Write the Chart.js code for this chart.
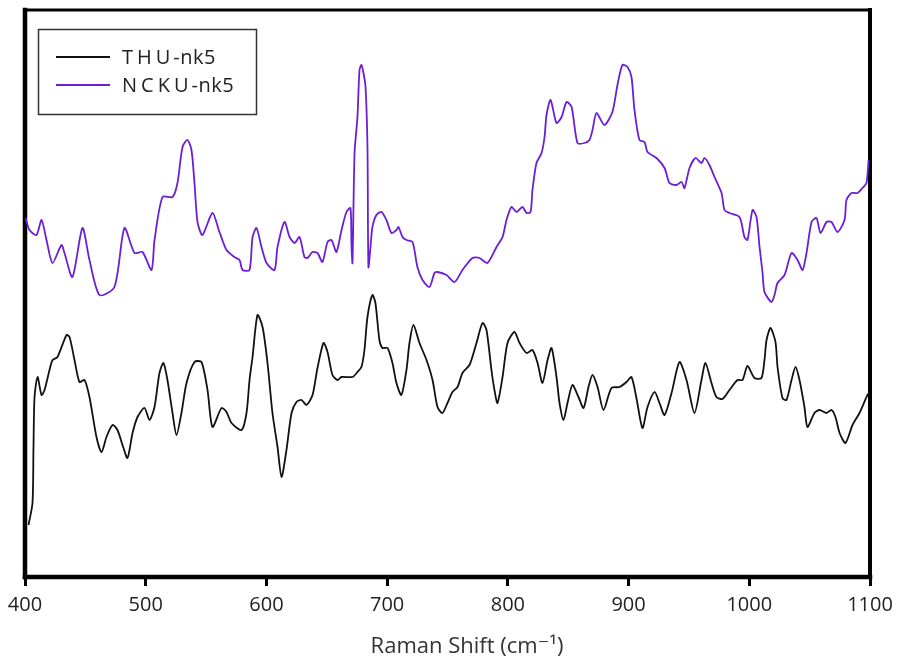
<!DOCTYPE html>
<html>
<head>
<meta charset="utf-8">
<title>Raman spectra</title>
<script src="https://cdn.jsdelivr.net/npm/chart.js@4.4.1/dist/chart.umd.min.js"></script>
<style>
  html, body { margin: 0; padding: 0; background: #ffffff; }
  #wrap { width: 908px; height: 664px; position: relative; }
</style>
</head>
<body>
<div id="wrap"><canvas id="spectra" width="908" height="664"></canvas></div>
<script>
// Raman shift axis ticks (cm-1)
const shiftTicks = [400, 500, 600, 700, 800, 900, 1000, 1100];

// Series names and axis title
const seriesNames = ['THU-nk5', 'NCKU-nk5'];
const xAxisTitle = 'Raman Shift (cm\u207B\u00B9)';

// THU-nk5 spectrum: Raman shift (cm-1) and intensity (a.u., offset trace)
const thuShift = [402.9, 406.2, 407.0, 407.9, 410.4, 413.7, 416.2, 420.3, 422.8, 426.9, 434.4, 436.9, 441.0, 445.1, 449.3, 453.4, 459.2, 463.4, 467.5, 472.5, 476.6, 480.8, 484.9, 489.1, 493.2, 499.0, 503.1, 507.3, 511.4, 514.7, 518.0, 522.2, 525.5, 529.6, 533.8, 540.4, 546.2, 551.2, 555.3, 562.8, 566.9, 571.1, 579.4, 583.5, 586.0, 588.5, 592.6, 596.8, 600.9, 605.0, 609.2, 612.5, 616.6, 620.8, 624.9, 629.1, 633.2, 638.2, 642.3, 647.3, 650.6, 654.7, 658.9, 662.2, 671.3, 675.4, 678.7, 681.2, 683.7, 687.8, 690.3, 693.6, 696.1, 700.3, 704.4, 707.7, 711.8, 716.0, 718.5, 721.8, 726.8, 732.6, 737.6, 741.7, 745.8, 750.0, 754.1, 758.3, 762.4, 768.2, 774.0, 779.0, 782.3, 786.4, 788.9, 791.4, 795.6, 799.7, 805.5, 809.7, 815.5, 820.4, 824.6, 828.7, 832.9, 836.2, 840.3, 842.8, 846.1, 849.4, 853.5, 858.5, 862.7, 866.8, 870.1, 874.3, 879.2, 885.8, 892.5, 898.3, 902.4, 906.5, 911.5, 915.7, 921.5, 925.6, 929.8, 935.6, 942.2, 948.0, 954.6, 960.4, 963.7, 968.7, 972.8, 977.8, 983.6, 990.2, 994.4, 998.5, 1004.3, 1010.1, 1012.6, 1014.3, 1017.6, 1021.7, 1023.4, 1027.5, 1030.8, 1035.0, 1038.3, 1041.6, 1045.7, 1048.2, 1054.0, 1058.2, 1064.0, 1068.1, 1071.4, 1074.8, 1079.7, 1085.5, 1091.3, 1097.9, 1099.6];
const thuIntensity = [52, 74, 127, 180, 200, 182, 187, 207, 217, 220, 242, 240, 217, 195, 197, 180, 140, 125, 140, 152, 147, 132, 119, 144, 160, 169, 157, 170, 204, 214, 197, 164, 142, 164, 194, 215, 215, 187, 150, 169, 165, 154, 147, 164, 197, 220, 262, 250, 214, 164, 130, 100, 127, 164, 175, 177, 172, 182, 209, 234, 225, 202, 197, 200, 200, 205, 210, 227, 260, 282, 274, 237, 229, 229, 214, 194, 182, 207, 234, 252, 234, 217, 197, 170, 164, 174, 185, 190, 204, 212, 234, 254, 247, 207, 187, 174, 200, 234, 245, 234, 224, 227, 214, 194, 217, 229, 200, 174, 157, 174, 192, 180, 169, 190, 202, 190, 167, 189, 190, 195, 200, 179, 149, 170, 185, 174, 162, 184, 215, 197, 164, 197, 214, 194, 180, 178, 187, 197, 197, 211, 199, 199, 217, 237, 249, 235, 210, 179, 177, 197, 210, 197, 170, 150, 164, 167, 164, 167, 160, 144, 134, 152, 164, 182, 184];

// NCKU-nk5 spectrum: Raman shift (cm-1) and intensity (a.u., offset trace)
const nckuShift = [400.4, 403.7, 409.5, 413.7, 417.8, 422.8, 430.2, 432.7, 439.3, 447.6, 453.4, 461.7, 474.1, 482.4, 490.7, 497.3, 504.8, 507.3, 513.9, 522.2, 526.3, 530.5, 534.6, 537.9, 540.4, 542.9, 547.0, 555.3, 561.1, 566.9, 573.5, 577.7, 580.2, 586.0, 588.5, 591.8, 595.9, 600.1, 606.7, 609.2, 615.0, 619.2, 623.3, 627.4, 631.5, 634.0, 638.2, 642.3, 646.4, 650.6, 653.9, 658.0, 662.2, 666.3, 669.6, 670.5, 671.3, 673.0, 675.4, 677.1, 678.7, 680.4, 682.1, 683.7, 684.5, 686.2, 687.8, 691.1, 695.3, 699.4, 703.6, 707.7, 709.4, 712.7, 716.0, 721.0, 725.1, 729.3, 735.1, 739.2, 741.7, 749.2, 755.8, 762.4, 770.7, 776.5, 783.1, 790.6, 795.6, 798.9, 803.0, 807.2, 812.1, 815.5, 818.8, 820.4, 823.7, 827.9, 830.4, 832.0, 835.4, 840.3, 844.5, 848.6, 852.8, 857.7, 863.5, 867.6, 870.1, 873.4, 880.0, 886.6, 890.8, 894.9, 899.1, 902.4, 904.9, 909.0, 913.2, 915.7, 923.1, 929.8, 933.9, 939.7, 943.9, 946.3, 950.5, 955.4, 960.4, 962.9, 967.0, 971.2, 977.0, 979.5, 983.6, 991.9, 996.0, 998.5, 1002.7, 1006.0, 1008.5, 1011.0, 1012.6, 1018.4, 1020.9, 1023.4, 1029.2, 1035.0, 1040.0, 1044.1, 1047.4, 1051.6, 1055.7, 1059.0, 1064.0, 1068.1, 1073.1, 1078.9, 1080.5, 1084.7, 1089.6, 1093.8, 1097.1, 1098.8];
const nckuIntensity = [359, 347, 342, 357, 337, 314, 332, 324, 300, 349, 317, 282, 290, 349, 324, 325, 307, 337, 380, 380, 394, 430, 437, 427, 394, 355, 342, 364, 345, 327, 320, 317, 307, 307, 340, 349, 330, 314, 307, 330, 355, 340, 334, 340, 320, 319, 325, 324, 315, 335, 337, 325, 347, 365, 369, 330, 314, 424, 460, 507, 512, 504, 490, 430, 310, 330, 350, 362, 365, 357, 344, 347, 350, 340, 337, 335, 310, 297, 290, 304, 305, 302, 295, 307, 319, 319, 314, 330, 340, 357, 370, 365, 370, 364, 365, 387, 414, 424, 440, 462, 477, 454, 460, 475, 470, 434, 434, 437, 447, 464, 452, 465, 492, 512, 510, 500, 467, 437, 435, 425, 419, 409, 394, 392, 395, 389, 409, 419, 414, 419, 412, 400, 384, 367, 364, 360, 340, 337, 367, 360, 330, 304, 285, 275, 282, 294, 302, 324, 317, 307, 324, 355, 359, 344, 355, 355, 345, 357, 377, 384, 384, 389, 394, 417];

const lineColors = ['#111111', '#6c1ed6'];
const textFont = "'Open Sans', 'DejaVu Sans', sans-serif";

function pairs(xs, ys) {
  return xs.map((x, i) => ({ x: x, y: ys[i] }));
}

// Frame around the plotting area (drawn beneath the traces)
const framePlugin = {
  id: 'frame',
  beforeDatasetsDraw(chart) {
    const { ctx, chartArea: a } = chart;
    ctx.save();
    ctx.strokeStyle = '#000000';
    ctx.lineCap = 'square';
    const edge = (x1, y1, x2, y2, w) => {
      ctx.lineWidth = w;
      ctx.beginPath();
      ctx.moveTo(x1, y1);
      ctx.lineTo(x2, y2);
      ctx.stroke();
    };
    edge(a.left, a.top, a.right, a.top, 3);
    edge(a.right, a.top, a.right, a.bottom, 4);
    edge(a.left, a.top, a.left, a.bottom, 4.5);
    edge(a.left, a.bottom, a.right, a.bottom, 4.5);
    ctx.restore();
  }
};

// Axis title below the tick labels, set slightly right of the axis centre
const axisTitlePlugin = {
  id: 'axisTitle',
  afterDraw(chart) {
    const { ctx } = chart;
    ctx.save();
    ctx.fillStyle = '#333333';
    ctx.font = '22px ' + textFont;
    ctx.textAlign = 'center';
    ctx.textBaseline = 'alphabetic';
    ctx.fillText(xAxisTitle, 467, 653);
    ctx.restore();
  }
};

// Boxed legend in the upper-left corner of the plot
const boxLegendPlugin = {
  id: 'boxLegend',
  afterDatasetsDraw(chart) {
    const { ctx } = chart;
    const box = { x: 38.5, y: 29.5, w: 218, h: 85 };
    ctx.save();
    ctx.fillStyle = '#ffffff';
    ctx.fillRect(box.x, box.y, box.w, box.h);
    ctx.strokeStyle = '#333333';
    ctx.lineWidth = 1.5;
    ctx.strokeRect(box.x, box.y, box.w, box.h);
    const rows = [57, 85];
    const hasSpacing = 'letterSpacing' in ctx;
    chart.data.datasets.forEach((ds, i) => {
      const y = rows[i];
      ctx.strokeStyle = ds.borderColor;
      ctx.lineWidth = 2;
      ctx.beginPath();
      ctx.moveTo(56, y);
      ctx.lineTo(110, y);
      ctx.stroke();
      ctx.fillStyle = '#222222';
      ctx.font = '20px ' + textFont;
      ctx.textBaseline = 'middle';
      ctx.textAlign = 'left';
      // wide-set capitals, tight suffix
      const cut = ds.label.indexOf('-');
      const head = ds.label.slice(0, cut);
      const tail = ds.label.slice(cut);
      if (hasSpacing) ctx.letterSpacing = '4px';
      ctx.fillText(head, 122, y + 1);
      const hw = ctx.measureText(head).width;
      if (hasSpacing) ctx.letterSpacing = '0.5px';
      ctx.fillText(tail, 122 + hw - 1, y + 1);
      if (hasSpacing) ctx.letterSpacing = '0px';
    });
    ctx.restore();
  }
};

new Chart(document.getElementById('spectra'), {
  type: 'line',
  data: {
    datasets: [
      {
        label: seriesNames[0],
        data: pairs(thuShift, thuIntensity),
        borderColor: lineColors[0],
        borderWidth: 1.8,
        pointRadius: 0,
        tension: 0.25,
        fill: false
      },
      {
        label: seriesNames[1],
        data: pairs(nckuShift, nckuIntensity),
        borderColor: lineColors[1],
        borderWidth: 1.8,
        pointRadius: 0,
        tension: 0.25,
        fill: false
      }
    ]
  },
  options: {
    responsive: false,
    animation: false,
    layout: { padding: { left: 25, right: 38, top: 10, bottom: 0 } },
    plugins: {
      legend: { display: false },
      tooltip: { enabled: false }
    },
    scales: {
      x: {
        type: 'linear',
        min: shiftTicks[0],
        max: shiftTicks[shiftTicks.length - 1],
        afterBuildTicks(scale) {
          scale.ticks = shiftTicks.map(v => ({ value: v }));
        },
        afterFit(scale) { scale.height = 87; },
        border: { display: false },
        grid: {
          drawOnChartArea: false,
          drawTicks: true,
          tickLength: 9,
          tickWidth: 3,
          tickColor: '#000000'
        },
        ticks: {
          color: '#222222',
          font: { family: textFont, size: 20 },
          padding: 7,
          maxRotation: 0,
          autoSkip: false,
          callback: (value) => String(value)
        },
        title: { display: false }
      },
      y: {
        display: false,
        min: 0,
        max: 567
      }
    }
  },
  plugins: [framePlugin, boxLegendPlugin, axisTitlePlugin]
});
</script>
</body>
</html>
